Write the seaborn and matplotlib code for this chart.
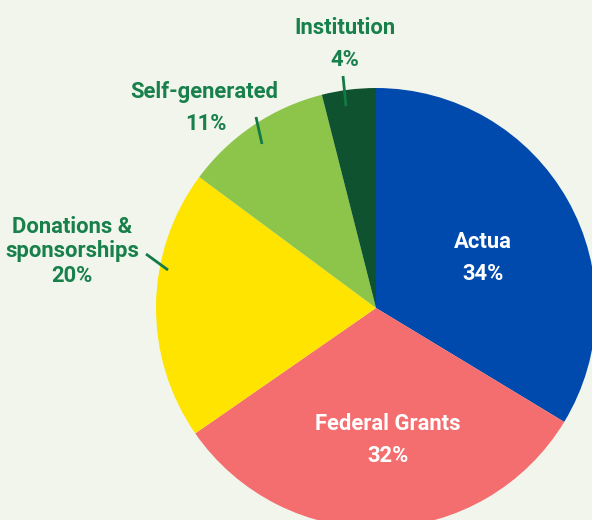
import numpy as np
import matplotlib
matplotlib.use("Agg")
import matplotlib.pyplot as plt
from matplotlib import font_manager
import seaborn as sns

# funding sources, clockwise from 12 o'clock
sources = ["Actua", "Federal Grants", "Donations &\nsponsorships", "Self-generated", "Institution"]
shares = [34, 32, 20, 11, 4]
pct_labels = ["34%", "32%", "20%", "11%", "4%"]
colors = ["#004AAD", "#F46D6F", "#FFE400", "#8DC54B", "#0F5230"]

bg = "#F2F5EC"
green_txt = "#18804A"

sns.set_theme(style="white", rc={"figure.facecolor": bg, "axes.facecolor": bg})

# condensed face if we have one, otherwise plain Roboto a bit smaller
installed = {f.name for f in font_manager.fontManager.ttflist}
if "Liberation Sans Narrow" in installed:
    fam, fsize = "Liberation Sans Narrow", 17
else:
    fam, fsize = "Roboto", 15.8
plt.rcParams["font.family"] = [fam, "DejaVu Sans"]

W, H = 592, 520
fig = plt.figure(figsize=(W / 100, H / 100), dpi=100)
ax = fig.add_axes([0, 0, 1, 1])

cx, cy, r = 376, H - 308, 220
wedges, _ = ax.pie(shares, colors=colors, startangle=90, counterclock=False,
                   center=(cx, cy), radius=r, frame=True,
                   wedgeprops={"linewidth": 0})
ax.set_xlim(0, W)
ax.set_ylim(0, H)
ax.set_aspect("equal")
ax.axis("off")

def put(x, y_px, s, color):
    ax.text(x, H - y_px, s, ha="center", va="baseline", color=color,
            fontsize=fsize, fontweight="bold")

# labels inside the big slices
put(483, 248, sources[0], "white")
put(483, 280, pct_labels[0], "white")
put(388, 430, sources[1], "white")
put(388, 462, pct_labels[1], "white")

# outside labels
put(72, 233, "Donations &", green_txt)
put(72, 257, "sponsorships", green_txt)
put(72, 282, pct_labels[2], green_txt)
put(204, 98, sources[3], green_txt)
put(206, 130, pct_labels[3], green_txt)
put(345, 34, sources[4], green_txt)
put(345, 66, pct_labels[4], green_txt)

# short leader lines
leaders = [((146, 254), (168, 270)), ((256, 117), (262, 144)), ((343, 76), (346, 106))]
for (x0, y0), (x1, y1) in leaders:
    ax.plot([x0, x1], [H - y0, H - y1], color="#137A45", lw=2, solid_capstyle="butt")

fig.savefig("out.png", dpi=100, facecolor=bg)
